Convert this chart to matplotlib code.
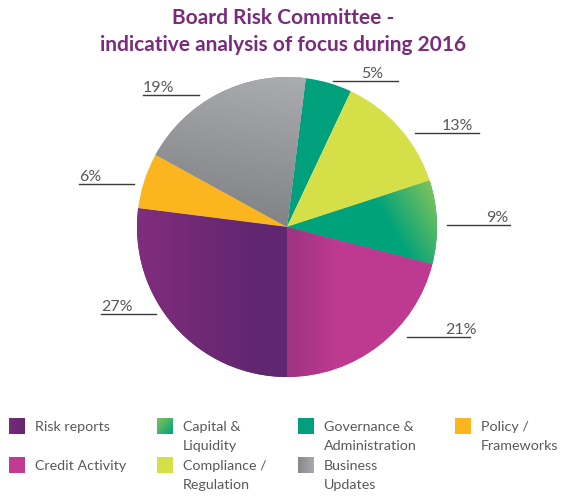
import numpy as np
import matplotlib
matplotlib.use("Agg")
import matplotlib.pyplot as plt
from matplotlib.colors import LinearSegmentedColormap
from matplotlib.patches import Rectangle
from matplotlib.lines import Line2D

# ---- data -------------------------------------------------------------
categories = ["Governance & Administration", "Compliance / Regulation",
              "Capital & Liquidity", "Credit Activity", "Risk reports",
              "Policy / Frameworks", "Business Updates"]
shares = [5, 13, 9, 21, 27, 6, 19]
pct_labels = ["5%", "13%", "9%", "21%", "27%", "6%", "19%"]

legend_order = ["Risk reports", "Capital & Liquidity", "Governance & Administration",
                "Policy / Frameworks", "Credit Activity", "Compliance / Regulation",
                "Business Updates"]
legend_text = {
    "Risk reports": ["Risk reports"],
    "Capital & Liquidity": ["Capital &", "Liquidity"],
    "Governance & Administration": ["Governance &", "Administration"],
    "Policy / Frameworks": ["Policy /", "Frameworks"],
    "Credit Activity": ["Credit Activity"],
    "Compliance / Regulation": ["Compliance /", "Regulation"],
    "Business Updates": ["Business", "Updates"],
}

title_lines = ["Board Risk Committee -", "indicative analysis of focus during 2016"]

# ---- styling ----------------------------------------------------------
W, H = 563, 497
FONT = "Lato"
TEXT_GREY = "#58595b"
TITLE_COLOR = "#7b2b7b"

# fill per category: (base colour, gradient spec or None)
# gradient spec: (start colour, end colour, direction deg, t0, t1)
fills = {
    "Governance & Administration": ("#00a07c", None),
    "Compliance / Regulation": ("#d5df48", None),
    "Capital & Liquidity": ("#00a27a", ("#00a27a", "#84c55a", 30, 0.6, 1.0)),
    "Credit Activity": ("#be3a91", ("#9f3380", "#be3a91", 0, 0.0, 0.35)),
    "Risk reports": ("#602670", ("#802d7c", "#602670", 0, -1.0, -0.2)),
    "Policy / Frameworks": ("#fbb51e", None),
    "Business Updates": ("#97989b", ("#828386", "#abacaf", 80, 0.0, 1.0)),
}
legend_fills = {
    "Risk reports": ("#6a2873", ("#7a2b7a", "#622671", 0, 0, 1)),
    "Capital & Liquidity": ("#00a27a", ("#00a27a", "#82c45a", 135, 0, 1)),
    "Credit Activity": ("#c13b92", None),
    "Business Updates": ("#97989b", ("#86878a", "#a9aaad", 0, 0, 1)),
}

# label placement in figure pixels: (line x0, line x1, line y, text x, ha)
label_pos = {
    "5%": (333, 398, 81, 383, "right"),
    "13%": (415, 479, 133, 473, "right"),
    "9%": (447, 510, 225, 508, "right"),
    "21%": (407, 470, 337, 477, "right"),
    "27%": (101, 156, 314, 101, "left"),
    "6%": (79, 134, 184, 79, "left"),
    "19%": (143, 199, 95, 143, "left"),
}


def gradient_fill(ax, patch, extent, spec, zorder, swatch=False):
    c0, c1, ang, t0, t1 = spec
    x0, x1, y0, y1 = extent
    xs = np.linspace(x0, x1, 300)
    ys = np.linspace(y0, y1, 300)
    X, Y = np.meshgrid(xs, ys)
    a = np.deg2rad(ang)
    if not swatch:
        P = X * np.cos(a) + Y * np.sin(a)
    else:
        # normalised coordinates inside a legend swatch
        u = (X - x0) / (x1 - x0)
        v = (Y - y0) / (y1 - y0)
        P = u * np.cos(a) + v * np.sin(a)
        P = (P - P.min()) / (P.max() - P.min())
    T = np.clip((P - t0) / (t1 - t0), 0, 1)
    cmap = LinearSegmentedColormap.from_list("g", [c0, c1])
    im = ax.imshow(T, cmap=cmap, vmin=0, vmax=1, extent=(x0, x1, y0, y1),
                   origin="lower", interpolation="bilinear", zorder=zorder)
    im.set_clip_path(patch)
    return im


fig = plt.figure(figsize=(W / 100, H / 100), dpi=100)
fig.patch.set_facecolor("white")

# pixel-space canvas for text, leader lines and legend
ax_bg = fig.add_axes([0, 0, 1, 1])
ax_bg.set_xlim(0, W)
ax_bg.set_ylim(H, 0)
ax_bg.axis("off")

# pie
cx, cy, R = 287, 227, 150
ax = fig.add_axes([(cx - R) / W, (H - cy - R) / H, 2 * R / W, 2 * R / H])
wedges, _ = ax.pie(shares, startangle=82.8, counterclock=False, radius=1,
                   colors=[fills[c][0] for c in categories],
                   wedgeprops=dict(linewidth=0))
for w, cat in zip(wedges, categories):
    spec = fills[cat][1]
    if spec is not None:
        gradient_fill(ax, w, (-1, 1, -1, 1), spec, zorder=w.get_zorder() + 0.1)
ax.set_xlim(-1, 1)
ax.set_ylim(-1, 1)
ax.set_aspect("equal")
ax.axis("off")

# percentage labels with underlines
for lab in pct_labels:
    lx0, lx1, ly, tx, ha = label_pos[lab]
    ax_bg.add_line(Line2D([lx0, lx1], [ly, ly], color="#3a3a3a", lw=1.0))
    ax_bg.text(tx, ly - 3, lab, ha=ha, va="baseline", fontsize=11.5,
               color=TEXT_GREY, family=FONT)

# title
ax_bg.text(283, 24, title_lines[0], ha="center", va="baseline", fontsize=15,
           fontweight="bold", color=TITLE_COLOR, family=FONT)
ax_bg.text(283, 51, title_lines[1], ha="center", va="baseline", fontsize=15,
           fontweight="bold", color=TITLE_COLOR, family=FONT)

# legend
col_x = [9, 157, 298, 455]
row_y = [418, 457]
sq = 16
for i, cat in enumerate(legend_order):
    r, c = divmod(i, 4)
    x, y = col_x[c], row_y[r]
    if cat in legend_fills:
        base, spec = legend_fills[cat]
    else:
        base, spec = fills[cat][0], None
    rect = Rectangle((x, y), sq, sq, facecolor=base, edgecolor="none", zorder=2)
    ax_bg.add_patch(rect)
    if spec is not None:
        gradient_fill(ax_bg, rect, (x, x + sq, y + sq, y), spec, zorder=3,
                      swatch=True)
    for k, line in enumerate(legend_text[cat]):
        ax_bg.text(x + 26, y + 13 + k * 19, line, ha="left", va="baseline",
                   fontsize=10.3, color=TEXT_GREY, family=FONT)

ax_bg.set_xlim(0, W)
ax_bg.set_ylim(H, 0)

fig.savefig("out.png", dpi=100, facecolor="white")
